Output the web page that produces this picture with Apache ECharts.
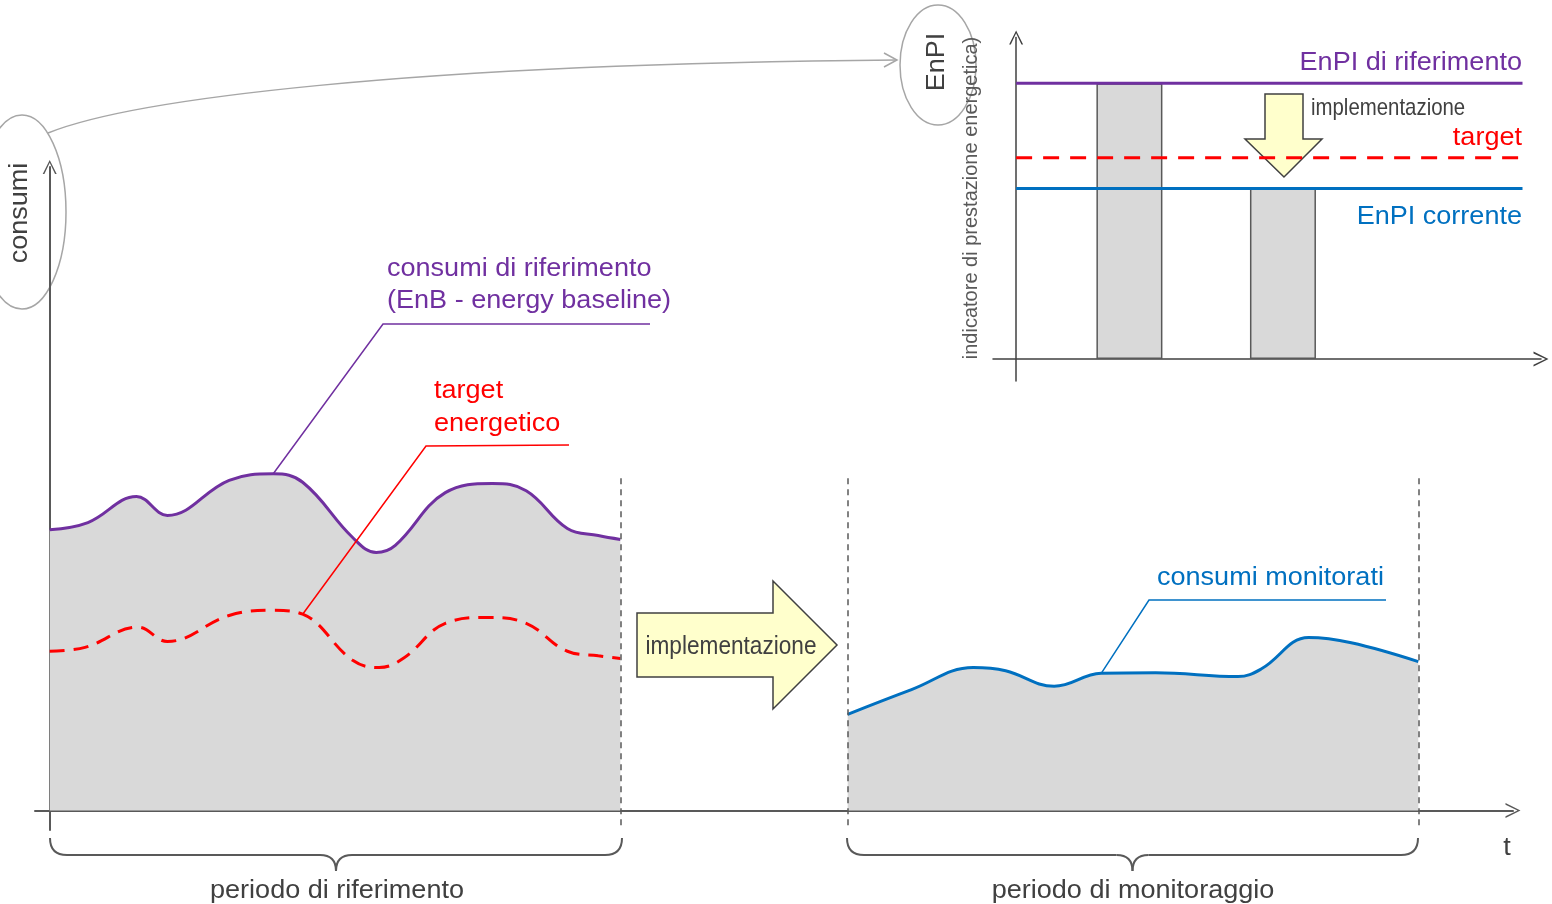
<!DOCTYPE html>
<html>
<head>
<meta charset="utf-8">
<title>consumi / EnPI</title>
<script src="https://cdn.jsdelivr.net/npm/echarts@6/dist/echarts.min.js"></script>
<style>
html,body{margin:0;padding:0;background:#fff;}
#main{width:1552px;height:904px;}
</style>
</head>
<body>
<div id="main"></div>
<script>
// consumi di riferimento (EnB) - periodo di riferimento
var baseX = [0, 2.6, 5.9, 8.0, 12.2, 15.2, 17.2, 20.6, 22.2, 23.5, 26.9, 30.1, 32.4, 35.2, 37.3, 38.8];
var baseY = [43.2, 44.3, 48.3, 45.4, 50.8, 51.8, 50.5, 42.0, 39.7, 40.8, 48.9, 50.3, 49.2, 43.4, 42.3, 41.7];
// target energetico
var targetX = [0, 2.4, 6.0, 8.0, 12.2, 15.2, 17.2, 20.6, 22.4, 24.1, 26.9, 29.8, 32.4, 35.2, 37.3, 38.8];
var targetY = [24.5, 25.1, 28.2, 26.0, 30.0, 30.8, 30.2, 23.1, 22.0, 23.5, 28.8, 29.7, 28.8, 24.5, 23.8, 23.4];
// consumi monitorati - periodo di monitoraggio
var monX = [54.26, 58.6, 62.8, 65.0, 68.3, 71.5, 75.2, 80.8, 82.4, 85.6, 88.5, 93.06];
var monY = [14.8, 18.6, 22.0, 21.5, 19.1, 21.1, 21.2, 20.6, 21.8, 26.6, 25.8, 22.9];
// limiti dei periodi (linee tratteggiate)
var periodBounds = [38.8, 54.26, 93.06];

// riquadro EnPI
var enpiX = [2.45, 5.77];
var enpiY = [12.6, 7.85];
var enpiRef = 12.6;
var enpiTarget = 9.2;
var enpiCurrent = 7.8;
var enpiLineEnd = 10.95;

function zip(a, b) {
    var out = [];
    for (var i = 0; i < a.length; i++) out.push([a[i], b[i]]);
    return out;
}

var PURPLE = '#7030a0', RED = '#ff0000', BLUE = '#0070c0', GREY = '#d9d9d9', TXT = '#404040';
var FONT = '"Liberation Sans", Arial, sans-serif';
// freccia aperta per gli assi
var arrowPath = 'path://M0,100 L50,0 L100,100 L88,100 L50,20 L12,100 Z';

function axisX(grid, min, max, color, width) {
    return {
        gridIndex: grid, type: 'value', min: min, max: max,
        axisLine: {show: true, onZero: true, symbol: ['none', arrowPath], symbolSize: [18, 15],
            lineStyle: {color: color, width: width}},
        axisTick: {show: false}, axisLabel: {show: false}, splitLine: {show: false}
    };
}
function axisY(grid, min, max, color, width) {
    return {
        gridIndex: grid, type: 'value', min: min, max: max,
        axisLine: {show: true, onZero: true, symbol: ['none', arrowPath], symbolSize: [16, 14],
            lineStyle: {color: color, width: width}},
        axisTick: {show: false}, axisLabel: {show: false}, splitLine: {show: false}
    };
}

var boundLines = [];
for (var i = 0; i < periodBounds.length; i++) {
    boundLines.push([{coord: [periodBounds[i], 51.1]}, {coord: [periodBounds[i], -2.8]}]);
}

var chart = echarts.init(document.getElementById('main'));
var option = {
    backgroundColor: '#fff',
    animation: false,
    grid: [
        {left: 35, right: 39, top: 167, bottom: 74},
        {left: 993, right: 11, top: 37.4, bottom: 523}
    ],
    xAxis: [axisX(0, -1, 99.5, '#595959', 2), axisX(1, -0.5, 11.35, '#404040', 1.5)],
    yAxis: [axisY(0, -3, 99, '#595959', 2), axisY(1, -1, 14.7, '#404040', 1.5)],
    series: [
        {
            name: 'consumi di riferimento', type: 'line', smooth: 0.4, symbol: 'none',
            data: zip(baseX, baseY),
            lineStyle: {color: PURPLE, width: 3},
            areaStyle: {color: GREY, opacity: 1},
            markLine: {
                silent: true, symbol: ['none', 'none'], label: {show: false},
                lineStyle: {color: '#595959', width: 1.5, type: [6, 5]},
                data: boundLines
            }
        },
        {
            name: 'target energetico', type: 'line', smooth: 0.4, symbol: 'none',
            data: zip(targetX, targetY),
            lineStyle: {color: RED, width: 3, type: [15, 9]}
        },
        {
            name: 'consumi monitorati', type: 'line', smooth: 0.4, symbol: 'none',
            data: zip(monX, monY),
            lineStyle: {color: BLUE, width: 3},
            areaStyle: {color: GREY, opacity: 1}
        },
        {
            name: 'EnPI', type: 'bar', xAxisIndex: 1, yAxisIndex: 1, barWidth: 66,
            data: zip(enpiX, enpiY),
            itemStyle: {color: GREY, borderColor: '#595959', borderWidth: 1.5}
        },
        {
            name: 'EnPI di riferimento', type: 'line', xAxisIndex: 1, yAxisIndex: 1, symbol: 'none',
            data: [[0, enpiRef], [enpiLineEnd, enpiRef]],
            lineStyle: {color: PURPLE, width: 3}
        },
        {
            name: 'target', type: 'line', xAxisIndex: 1, yAxisIndex: 1, symbol: 'none',
            data: [[0, enpiTarget], [enpiLineEnd, enpiTarget]],
            lineStyle: {color: RED, width: 3, type: [16, 11]}
        },
        {
            name: 'EnPI corrente', type: 'line', xAxisIndex: 1, yAxisIndex: 1, symbol: 'none',
            data: [[0, enpiCurrent], [enpiLineEnd, enpiCurrent]],
            lineStyle: {color: BLUE, width: 3}
        }
    ]
};
chart.setOption(option);

// le etichette dell'originale sono un po' allargate
function txt(x, y, text, color, size, align, extra) {
    var el = {
        type: 'text', x: x, y: y + 2, z: 50, scaleX: size === 26 ? 1.04 : 1,
        style: {text: text, fill: color, font: size + 'px ' + FONT, textAlign: align || 'left', textVerticalAlign: 'middle'}
    };
    if (extra) for (var k in extra) el[k] = extra[k];
    return el;
}
function brace(x1, x2, yTop, yLine, yTip) {
    var mid = (x1 + x2) / 2, st = {stroke: '#595959', lineWidth: 2, fill: null};
    return [
        {type: 'bezierCurve', shape: {x1: x1, y1: yTop, x2: x1 + 17, y2: yLine, cpx1: x1, cpy1: yLine}, style: st},
        {type: 'line', shape: {x1: x1 + 17, y1: yLine, x2: mid - 16, y2: yLine}, style: st},
        {type: 'bezierCurve', shape: {x1: mid - 16, y1: yLine, x2: mid, y2: yTip, cpx1: mid, cpy1: yLine}, style: st},
        {type: 'bezierCurve', shape: {x1: mid, y1: yTip, x2: mid + 16, y2: yLine, cpx1: mid, cpy1: yLine}, style: st},
        {type: 'line', shape: {x1: mid + 16, y1: yLine, x2: x2 - 17, y2: yLine}, style: st},
        {type: 'bezierCurve', shape: {x1: x2 - 17, y1: yLine, x2: x2, y2: yTop, cpx1: x2, cpy1: yLine}, style: st}
    ];
}

// punti delle curve a cui arrivano le linee di richiamo
var pBase = chart.convertToPixel({gridIndex: 0}, [baseX[5], baseY[5]]);
var pTarget = chart.convertToPixel({gridIndex: 0}, [targetX[6], targetY[6]]);
var pMon = chart.convertToPixel({gridIndex: 0}, [monX[5], monY[5]]);

var arrowStyle = {fill: '#ffffcc', stroke: '#404040', lineWidth: 1.5};
var ring = {fill: null, stroke: '#a6a6a6', lineWidth: 1.5};
var graphic = [
    // collegamento consumi -> EnPI
    {type: 'bezierCurve', shape: {x1: 48, y1: 133, x2: 897, y2: 60, cpx1: 130, cpy1: 100, cpx2: 400, cpy2: 64}, style: ring},
    {type: 'polyline', shape: {points: [[884, 53], [897, 60], [884, 67]]}, style: ring},
    {type: 'ellipse', shape: {cx: 22, cy: 212, rx: 44, ry: 97}, style: ring},
    {type: 'ellipse', shape: {cx: 938, cy: 65, rx: 38, ry: 60}, style: ring},
    txt(20, 211, 'consumi', TXT, 26, 'center', {rotation: Math.PI / 2, scaleX: 1.04}),
    txt(937, 60, 'EnPI', TXT, 26, 'center', {rotation: Math.PI / 2}),
    txt(971, 196, 'indicatore di prestazione energetica)', '#595959', 20, 'center', {rotation: Math.PI / 2}),

    // freccia implementazione (grafico principale)
    {type: 'polygon', shape: {points: [[637, 613], [773, 613], [773, 581], [837, 645], [773, 709], [773, 677], [637, 677]]}, style: arrowStyle},
    txt(731, 645, 'implementazione', TXT, 26, 'center', {scaleX: 0.87}),
    // freccia implementazione (riquadro EnPI)
    {type: 'polygon', shape: {points: [[1265, 94], [1303, 94], [1303, 139], [1322, 139], [1284, 177], [1245, 139], [1265, 139]]}, style: arrowStyle},
    txt(1311, 106, 'implementazione', TXT, 24, 'left', {scaleX: 0.85}),

    txt(1522, 61, 'EnPI di riferimento', PURPLE, 26, 'right'),
    txt(1522, 136, 'target', RED, 26, 'right'),
    txt(1522, 215, 'EnPI corrente', BLUE, 26, 'right'),

    // richiami
    txt(387, 267, 'consumi di riferimento', PURPLE, 26),
    txt(387, 299, '(EnB - energy baseline)', PURPLE, 26),
    {type: 'polyline', z: 100, shape: {points: [[650, 324], [383, 324], pBase]}, style: {stroke: PURPLE, lineWidth: 1.5, fill: null}},
    txt(434, 389, 'target', RED, 26),
    txt(434, 422, 'energetico', RED, 26),
    {type: 'polyline', z: 100, shape: {points: [[569, 445], [426, 446], pTarget]}, style: {stroke: RED, lineWidth: 1.5, fill: null}},
    txt(1157, 576, 'consumi monitorati', BLUE, 26),
    {type: 'polyline', z: 100, shape: {points: [[1386, 600], [1149, 600], pMon]}, style: {stroke: BLUE, lineWidth: 1.5, fill: null}},

    txt(337, 889, 'periodo di riferimento', TXT, 26, 'center'),
    txt(1133, 889, 'periodo di monitoraggio', TXT, 26, 'center'),
    txt(1507, 846, 't', TXT, 26, 'center')
].concat(brace(50, 622, 838, 855, 871), brace(847, 1418, 838, 855, 871));

chart.setOption({graphic: graphic});
</script>
</body>
</html>
